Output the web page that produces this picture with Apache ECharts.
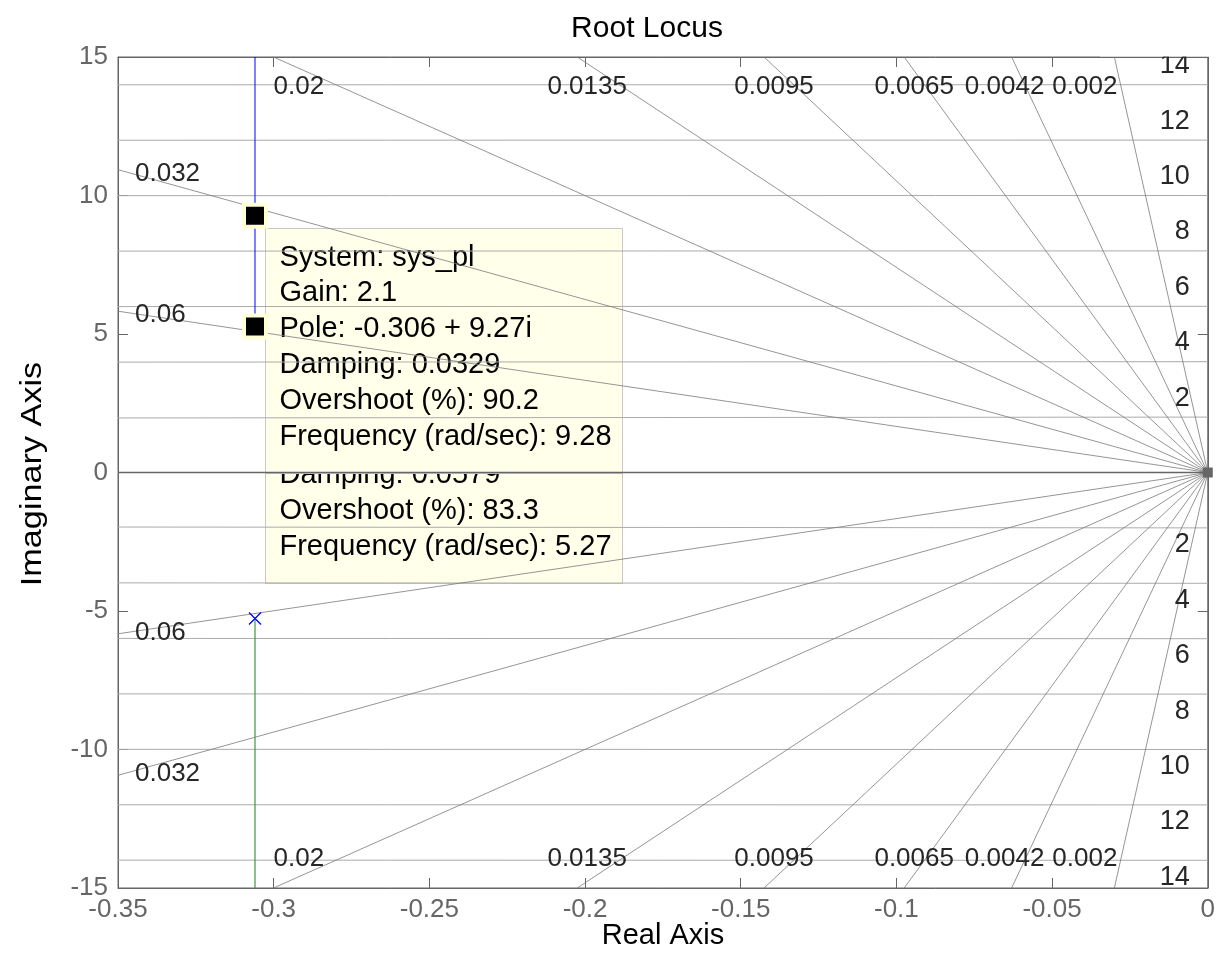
<!DOCTYPE html>
<html>
<head>
<meta charset="utf-8">
<title>Root Locus</title>
<script src="https://cdn.jsdelivr.net/npm/echarts@6/dist/echarts.min.js"></script>
<style>
  html, body { margin: 0; padding: 0; background: #fff; }
  #main { width: 1218px; height: 974px; }
</style>
</head>
<body>
<div id="main"></div>
<script>
// axis ticks
var xTicks = [-0.35, -0.3, -0.25, -0.2, -0.15, -0.1, -0.05, 0];
var yTicks = [-15, -10, -5, 0, 5, 10, 15];

// sgrid: damping ratios (labelled on top/bottom edge, or on left edge) and natural freqs
var dampTop = [0.02, 0.0135, 0.0095, 0.0065, 0.0042, 0.002];
var dampLeft = [0.06, 0.032];
var freqs = [2, 4, 6, 8, 10, 12, 14];

// root locus branches (real, imag)
var branchUp = [[-0.306, 5.27], [-0.306, 15]];
var branchDown = [[-0.306, -5.27], [-0.306, -15]];
var poles = [[-0.306, 5.27], [-0.306, -5.27]];
var originPole = [[0, 0]];
var dataTips = [[-0.306, 9.27], [-0.306, 5.27]];

var tip1 = ['System: sys_pl', 'Gain: 2.1', 'Pole: -0.306 + 9.27i', 'Damping: 0.0329', 'Overshoot (%): 90.2', 'Frequency (rad/sec): 9.28'];
var tip2 = ['System: sys_pl', 'Gain: 0', 'Pole: -0.306 + 5.27i', 'Damping: 0.0579', 'Overshoot (%): 83.3', 'Frequency (rad/sec): 5.27'];

var xMin = xTicks[0], xMax = xTicks[xTicks.length - 1];
var yMin = yTicks[0], yMax = yTicks[yTicks.length - 1];
var FONT = 'Arial, "Liberation Sans", sans-serif';

// where a damping ray from the origin leaves the plot box
function rayEnd(z, s) {
  var w = Math.sqrt(1 - z * z);
  var r = Math.min(-xMin / z, yMax / w);
  return [-z * r, s * w * r];
}

var series = [];

// natural frequency "circles" (look flat at this aspect ratio)
freqs.forEach(function (w) {
  [1, -1].forEach(function (s) {
    series.push({
      type: 'line', symbol: 'none', silent: true, z: 1,
      data: [[xMin, s * Math.sqrt(w * w - xMin * xMin)], [0, s * w]],
      lineStyle: { color: '#ababab', width: 1 }
    });
  });
});

// damping rays
dampLeft.concat(dampTop).forEach(function (z) {
  [1, -1].forEach(function (s) {
    series.push({
      type: 'line', symbol: 'none', silent: true, z: 1,
      data: [[0, 0], rayEnd(z, s)],
      lineStyle: { color: '#7a7a7a', width: 0.8 }
    });
  });
});

// real axis line
series.push({
  type: 'line', symbol: 'none', silent: true, z: 1,
  data: [[xMin, 0], [0, 0]],
  lineStyle: { color: '#666', width: 1.3 }
});

// damping labels
var dLabels = [];
dampTop.forEach(function (z, i) {
  var n = dampTop.length;
  var align = i === 0 ? 'left' : (i === n - 1 ? 'right' : 'center');
  var dx = i === 0 ? 0 : (i === n - 1 ? 3 : (i === n - 2 ? -7 : 10));
  [1, -1].forEach(function (s) {
    var x = -yMax * z / Math.sqrt(1 - z * z);
    dLabels.push({ value: [x, s * 14], label: { align: align, offset: [dx, s > 0 ? 2 : -1] } });
  });
});
dampLeft.forEach(function (z) {
  [1, -1].forEach(function (s) {
    dLabels.push({ value: rayEnd(z, s), label: { align: 'left', offset: [17, s > 0 ? 4 : -1] } });
  });
});
series.push({
  type: 'scatter', symbolSize: 0, silent: true, z: 3,
  itemStyle: { opacity: 1 },
  data: dLabels,
  label: {
    show: true, position: 'inside', verticalAlign: 'middle',
    color: '#262626', fontSize: 26, fontFamily: FONT,
    formatter: function (p) {
      var k = p.dataIndex;
      var z = k < dampTop.length * 2 ? dampTop[Math.floor(k / 2)]
        : dampLeft[Math.floor((k - dampTop.length * 2) / 2)];
      return String(z);
    }
  }
});

// frequency labels on right edge
var fLabels = [];
freqs.forEach(function (w) {
  fLabels.push({ value: [0, w], label: { offset: [-18, -19] } });
  fLabels.push({ value: [0, -w], label: { offset: [-18, 17] } });
});
series.push({
  type: 'scatter', symbolSize: 0, silent: true, z: 3, clip: false,
  itemStyle: { opacity: 1 },
  data: fLabels,
  label: {
    show: true, position: 'inside', align: 'right', verticalAlign: 'middle',
    color: '#262626', fontSize: 27, fontFamily: FONT,
    formatter: function (p) { return String(Math.abs(p.value[1])); }
  }
});

// locus branches
series.push({
  type: 'line', symbol: 'none', z: 4, data: branchUp,
  lineStyle: { color: '#0000ff', width: 1 }
});
series.push({
  type: 'line', symbol: 'none', z: 4, data: branchDown,
  lineStyle: { color: '#3c9a3c', width: 1.2 }
});
// open-loop poles
series.push({
  type: 'scatter', z: 5, data: poles,
  symbol: 'path://M0,0L10,10M10,0L0,10', symbolSize: 12,
  itemStyle: { color: 'none', borderColor: '#0000ff', borderWidth: 1.3, opacity: 1 }
});
series.push({
  type: 'scatter', z: 5, data: originPole, clip: false,
  symbol: 'rect', symbolSize: 10,
  itemStyle: { color: '#666', opacity: 1 }
});
// data tip markers
series.push({
  type: 'scatter', z: 6, data: dataTips,
  symbol: 'rect', symbolSize: 22,
  itemStyle: { color: '#000', borderColor: '#ffffd8', borderWidth: 4, opacity: 1 }
});

function tipBox(lines, top) {
  var kids = [{
    type: 'rect',
    shape: { x: 0, y: 0, width: 357, height: 245 },
    style: { fill: '#ffffea', stroke: '#c8c8c8', lineWidth: 1 }
  }];
  lines.forEach(function (t, i) {
    kids.push({
      type: 'text', x: 14, y: 29 + i * 35.8,
      style: {
        text: t, fill: '#000', font: '29px ' + FONT,
        textVerticalAlign: 'middle', verticalAlign: 'middle'
      }
    });
  });
  return { type: 'group', left: 265, top: top, z: 50, children: kids };
}

var tickAxis = {
  axisLine: { onZero: false, lineStyle: { color: '#666' } },
  axisTick: { inside: true, length: 10, lineStyle: { color: '#666' } },
  splitLine: { show: false }
};

var chart = echarts.init(document.getElementById('main'));
chart.setOption({
  animation: false,
  backgroundColor: '#fff',
  title: {
    text: 'Root Locus', left: 642, top: 9, textAlign: 'center',
    textStyle: { color: '#000', fontWeight: 'normal', fontSize: 30, fontFamily: FONT }
  },
  grid: {
    left: 118, right: 10, top: 57, bottom: 86,
    show: true, borderColor: '#666', borderWidth: 1
  },
  xAxis: [Object.assign({
    type: 'value', min: xMin, max: xMax, interval: 0.05,
    axisLabel: {
      margin: 9, color: '#666', fontSize: 26, fontFamily: FONT,
      formatter: function (v) { return String(+v.toFixed(2)); }
    }
  }, tickAxis), Object.assign({
    type: 'value', position: 'top', min: xMin, max: xMax, interval: 0.05,
    axisLabel: { show: false }
  }, tickAxis)],
  yAxis: [Object.assign({
    type: 'value', min: yMin, max: yMax, interval: 5,
    axisLabel: { margin: 10, color: '#666', fontSize: 26, fontFamily: FONT }
  }, tickAxis), Object.assign({
    type: 'value', position: 'right', min: yMin, max: yMax, interval: 5,
    axisLabel: { show: false }
  }, tickAxis)],
  graphic: [
    tipBox(tip2, 338),
    tipBox(tip1, 228),
    // hides the top of the clipped "14" label above the box
    { type: 'rect', left: 1100, top: 0, z: 60, shape: { width: 118, height: 56.5 }, style: { fill: '#fff' } },
    {
      type: 'text', z: 60, x: 663, y: 936,
      style: {
        text: 'Real Axis', fill: '#000', font: '29px ' + FONT,
        textAlign: 'center', align: 'center', textVerticalAlign: 'middle', verticalAlign: 'middle'
      }
    },
    {
      type: 'text', z: 60, x: 33, y: 474, rotation: Math.PI / 2, scaleX: 1.18,
      style: {
        text: 'Imaginary Axis', fill: '#000', font: '29px ' + FONT,
        textAlign: 'center', align: 'center', textVerticalAlign: 'middle', verticalAlign: 'middle'
      }
    }
  ],
  series: series
});
</script>
</body>
</html>
